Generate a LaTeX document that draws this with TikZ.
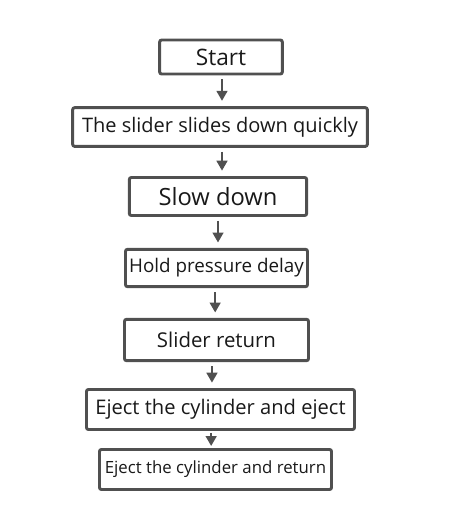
\documentclass[tikz,border=0pt]{standalone}
\usepackage{fontspec}
\setmainfont{Open Sans}
\usetikzlibrary{arrows.meta}
\definecolor{fc_line}{RGB}{80, 80, 80}
\definecolor{fc_text}{RGB}{25, 25, 25}
\tikzstyle{stepbox}=[rectangle,rounded corners=1.5pt,draw=fc_line,
  line width=2.2pt,text=fc_text,inner sep=0pt,fill=white]
\tikzstyle{arr}=[draw=fc_line,fill=fc_line,line width=1.8pt,
  -{Triangle[width=8pt,length=7.5pt]},shorten <=3pt,shorten >=4pt]

\begin{document}
\begin{tikzpicture}[x=0.75pt,y=-0.75pt]
    \useasboundingbox (0,0) rectangle (452,507);
    \node [style=stepbox,minimum width=92pt,minimum height=25.5pt,font=\fontsize{17}{20}\selectfont] (start) at (221,57) {Start};
    \node [style=stepbox,minimum width=221pt,minimum height=29pt,font=\fontsize{15}{18}\selectfont] (fast) at (220,127) {The slider slides down quickly};
    \node [style=stepbox,minimum width=133pt,minimum height=28.5pt,font=\fontsize{17.8}{20}\selectfont] (slow) at (218,196.5) {Slow down};
    \node [style=stepbox,minimum width=136.5pt,minimum height=28pt,font=\fontsize{14.1}{17}\selectfont] (hold) at (216.5,268) {Hold pressure delay};
    \node [style=stepbox,minimum width=138pt,minimum height=31pt,font=\fontsize{15.3}{18}\selectfont] (back) at (216.5,340) {Slider return};
    \node [style=stepbox,minimum width=201pt,minimum height=30pt,font=\fontsize{15.1}{18}\selectfont] (eject) at (220.5,409.5) {Eject the cylinder and eject};
    \node [style=stepbox,minimum width=174pt,minimum height=30pt,font=\fontsize{12.6}{15}\selectfont] (ret) at (215.5,469.5) {Eject the cylinder and return};
    \draw [style=arr] ([xshift=0.75pt]start.south) to ([xshift=0.75pt]start.south |- fast.north);
    \draw [style=arr] ([xshift=1.5pt]fast.south) to ([xshift=1.5pt]fast.south |- slow.north);
    \draw [style=arr] (slow.south) to (slow.south |- hold.north);
    \draw [style=arr] ([xshift=-1pt]hold.south) to ([xshift=-1pt]hold.south |- back.north);
    \draw [style=arr] ([xshift=-3.4pt]back.south) to ([xshift=-3.4pt]back.south |- eject.north);
    \draw [style=arr,shorten <=1.5pt,shorten >=1.5pt] ([xshift=-7pt]eject.south) to ([xshift=-7pt]eject.south |- ret.north);
  \end{tikzpicture}
\end{document}
